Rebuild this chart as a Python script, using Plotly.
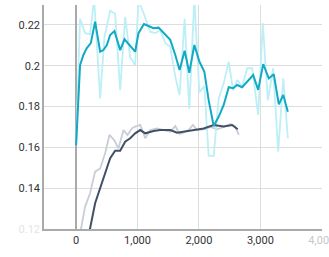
import plotly.graph_objects as go

# Top series (cyan) raw
top_raw_steps = [0, 65, 147, 228, 294, 392, 462, 555, 636, 718, 799, 881, 962, 1016,
                 1098, 1207, 1289, 1370, 1452, 1533, 1615, 1685, 1767, 1843, 1925, 2007,
                 2088, 2158, 2240, 2321, 2403, 2485, 2556, 2622, 2703, 2785, 2866, 2964,
                 3039, 3121, 3208, 3290, 3372, 3447]
top_raw_vals = [0.161, 0.223, 0.216, 0.2155, 0.233, 0.184, 0.214, 0.227, 0.2255, 0.188,
                0.224, 0.204, 0.2005, 0.232, 0.2259, 0.2167, 0.216, 0.2175, 0.2111, 0.2093,
                0.1947, 0.1857, 0.223, 0.179, 0.233, 0.187, 0.190, 0.156, 0.1558, 0.184,
                0.1914, 0.202, 0.188, 0.193, 0.1898, 0.1988, 0.1988, 0.1759, 0.2209, 0.1832,
                0.1988, 0.1579, 0.1938, 0.1645]

# Top series smoothed
top_sm_steps = [0, 65, 119, 175, 240, 310, 392, 445, 501, 555, 625, 718, 788, 870, 962,
                1016, 1105, 1179, 1261, 1343, 1424, 1533, 1615, 1685, 1767, 1843, 1925,
                2007, 2088, 2158, 2240, 2321, 2403, 2485, 2556, 2622, 2703, 2785, 2883,
                2964, 3046, 3137, 3218, 3300, 3372, 3447]
top_sm_vals = [0.161, 0.2003, 0.2053, 0.2087, 0.2111, 0.2216, 0.2069, 0.2077, 0.2102,
               0.2151, 0.217, 0.2077, 0.213, 0.2102, 0.2069, 0.216, 0.2205, 0.2195, 0.2184,
               0.2187, 0.216, 0.2127, 0.2053, 0.1979, 0.2074, 0.1966, 0.2102, 0.2021,
               0.1971, 0.1832, 0.1705, 0.175, 0.1808, 0.1895, 0.189, 0.1906, 0.1895,
               0.1922, 0.1955, 0.1882, 0.2008, 0.1938, 0.1959, 0.1811, 0.1857, 0.1775]

# Bottom series (dark) raw
bot_raw_steps = [0, 82, 147, 228, 310, 392, 473, 543, 620, 690, 772, 837, 909, 962, 1044,
                 1126, 1207, 1316, 1424, 1533, 1615, 1685, 1750, 1832, 1903, 1969, 2104,
                 2186, 2295, 2403, 2512, 2594, 2648]
bot_raw_vals = [0.107, 0.1203, 0.131, 0.1375, 0.1481, 0.1497, 0.1571, 0.1661, 0.1636,
                0.1595, 0.1685, 0.1661, 0.1693, 0.1702, 0.171, 0.1645, 0.1685, 0.1693,
                0.1685, 0.1677, 0.1705, 0.1666, 0.1672, 0.1685, 0.171, 0.1685, 0.1689,
                0.170, 0.1689, 0.170, 0.1715, 0.1702, 0.1661]

# Bottom series smoothed
bot_sm_steps = [0, 228, 310, 392, 473, 555, 636, 718, 799, 881, 962, 1044, 1126, 1261,
                1370, 1533, 1643, 1750, 1913, 2077, 2240, 2403, 2540, 2631]
bot_sm_vals = [0.105, 0.1203, 0.1326, 0.14, 0.1473, 0.1547, 0.1584, 0.1584, 0.1628,
               0.1645, 0.1669, 0.1685, 0.1669, 0.168, 0.1685, 0.1685, 0.1672, 0.1677,
               0.1685, 0.1693, 0.171, 0.1702, 0.171, 0.1689]

x_tickvals = [0, 1000, 2000, 3000, 4000]
x_ticktext = ["0", "1,000", "2,000", "3,000", '<span style="color:#c8c8c8">4,000</span>']
y_tickvals = [0.12, 0.14, 0.16, 0.18, 0.2, 0.22]
y_ticktext = ['<span style="color:#e4e4e4">0.12</span>', "0.14", "0.16", "0.18", "0.2", "0.22"]

fig = go.Figure()
fig.add_trace(go.Scatter(x=bot_raw_steps, y=bot_raw_vals, mode="lines",
                         line=dict(color="#c9cdd6", width=1.8), hoverinfo="skip"))
fig.add_trace(go.Scatter(x=top_raw_steps, y=top_raw_vals, mode="lines",
                         line=dict(color="#bdeff6", width=1.8), hoverinfo="skip"))
fig.add_trace(go.Scatter(x=bot_sm_steps, y=bot_sm_vals, mode="lines",
                         line=dict(color="#425066", width=2), hoverinfo="skip"))
fig.add_trace(go.Scatter(x=top_sm_steps, y=top_sm_vals, mode="lines",
                         line=dict(color="#12a9c4", width=2), hoverinfo="skip"))

fig.update_layout(
    width=329, height=257,
    margin=dict(l=44, r=7, t=5, b=28, autoexpand=False),
    paper_bgcolor="white", plot_bgcolor="white",
    showlegend=False,
    font=dict(family="Roboto", size=11, color="#333333"),
    xaxis=dict(range=[-522, 4003], tickvals=x_tickvals, ticktext=x_ticktext,
               showgrid=True, gridcolor="#dddddd", gridwidth=1,
               showline=True, linecolor="#aaaaaa", linewidth=1.5,
               zeroline=True, zerolinecolor="#aaaaaa", zerolinewidth=1.5,
               ticks="", automargin=False, ticklabeloverflow="allow",
               fixedrange=True),
    yaxis=dict(range=[0.12, 0.2298], tickvals=y_tickvals, ticktext=y_ticktext,
               showgrid=True, gridcolor="#dddddd", gridwidth=1,
               showline=True, linecolor="#aaaaaa", linewidth=1.5,
               zeroline=False, ticks="", automargin=False, fixedrange=True),
)

fig.write_html("out.html", config={"displayModeBar": False},
               post_script="document.body.style.margin='0';document.body.style.overflow='hidden';")
